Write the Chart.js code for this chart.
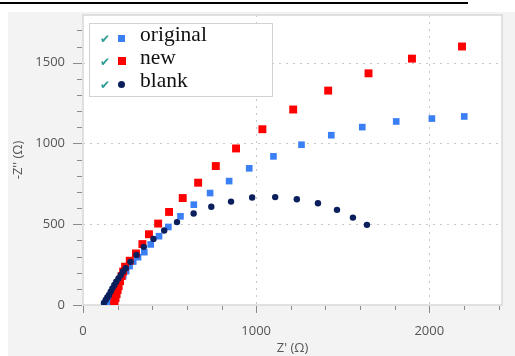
<!DOCTYPE html>
<html>
<head>
<meta charset="utf-8">
<script src="https://cdn.jsdelivr.net/npm/chart.js@4.4.0/dist/chart.umd.min.js"></script>
<style>
  body { margin: 0; background: #fff; }
  #wrap { position: relative; width: 515px; height: 356px; overflow: hidden; }
  #rule { position: absolute; left: 0; top: 2px; width: 468px; height: 2px; background: #000; }
  #panel { position: absolute; left: 8px; top: 12px; right: 0; bottom: 0; background: #f3f3f3; }
  #chart { position: absolute; left: 0; top: 0; }
  #legendBox { position: absolute; left: 89px; top: 23px; width: 182px; height: 72px;
               background: #fff; border: 1px solid #d2d2d2; }
  .check { position: absolute; font: 12px "DejaVu Sans"; color: #2b9c94; line-height: 12px; }
  .mark { position: absolute; }
  .label { position: absolute; font: 21.5px "Liberation Serif"; color: #111; line-height: 23px; white-space: nowrap; }
</style>
</head>
<body>
<div id="wrap">
  <div id="rule"></div>
  <div id="panel"></div>
  <canvas id="chart" width="515" height="356"></canvas>
  <div id="legendBox"></div>
</div>
<script>
// Series names and colours
const seriesNames = ['original', 'new', 'blank'];
const seriesColors = ['#3b7ff5', '#ff0000', '#0a1f5c'];

// original (blue squares)
const originalX = [145, 153, 162, 174, 185, 200, 214, 232, 249, 269, 290, 318, 354, 391, 439, 493, 563, 640, 734, 844, 960, 1100, 1262, 1434, 1613, 1809, 2015, 2202];
const originalY = [6, 19, 43, 68, 93, 120, 148, 179, 210, 241, 269, 296, 327, 375, 426, 483, 549, 621, 693, 767, 846, 920, 992, 1051, 1101, 1136, 1154, 1167];

// new (red squares)
const newX = [180, 182, 188, 194, 200, 206, 214, 223, 232, 243, 270, 306, 343, 381, 434, 497, 576, 665, 767, 884, 1036, 1214, 1416, 1649, 1900, 2189];
const newY = [5, 19, 43, 68, 93, 117, 148, 179, 207, 237, 274, 319, 377, 438, 504, 576, 662, 757, 860, 969, 1088, 1210, 1327, 1434, 1525, 1600];

// blank (navy circles)
const blankX = [121, 131, 140, 150, 160, 170, 181, 192, 205, 218, 232, 247, 274, 309, 351, 407, 469, 543, 639, 741, 855, 977, 1110, 1235, 1357, 1467, 1559, 1640];
const blankY = [12, 31, 47, 62, 83, 103, 124, 144, 165, 185, 207, 228, 267, 310, 360, 409, 461, 513, 566, 608, 640, 665, 668, 655, 630, 589, 541, 496];

// Axis ticks
const xTicks = [0, 200, 400, 600, 800, 1000, 1200, 1400, 1600, 1800, 2000, 2200, 2400];
const yTicks = [0, 100, 200, 300, 400, 500, 600, 700, 800, 900, 1000, 1100, 1200, 1300, 1400, 1500, 1600, 1700];
const xLabelTicks = [0, 1000, 2000];
const yLabelTicks = [0, 500, 1000, 1500];

const toPoints = (xs, ys) => xs.map((x, i) => ({ x: x, y: ys[i] }));

// white plot area, dotted grid, frame and tick marks
const plotFrame = {
  id: 'plotFrame',
  beforeDatasetsDraw(chart) {
    const { ctx, chartArea: a, scales: { x, y } } = chart;
    ctx.save();
    ctx.fillStyle = '#fff';
    ctx.fillRect(a.left, a.top, a.right - a.left, a.bottom - a.top);

    ctx.strokeStyle = '#c8c8c8';
    ctx.lineWidth = 1;
    ctx.setLineDash([2, 5]);
    xLabelTicks.filter(v => v > 0).forEach(v => {
      const px = Math.round(x.getPixelForValue(v)) + 0.5;
      ctx.beginPath(); ctx.moveTo(px, a.top); ctx.lineTo(px, a.bottom); ctx.stroke();
    });
    yLabelTicks.filter(v => v > 0).forEach(v => {
      const py = Math.round(y.getPixelForValue(v)) + 0.5;
      ctx.beginPath(); ctx.moveTo(a.left, py); ctx.lineTo(a.right, py); ctx.stroke();
    });
    ctx.setLineDash([]);

    ctx.strokeStyle = '#d8d8d8';
    ctx.lineWidth = 1.5;
    ctx.strokeRect(a.left, a.top, a.right - a.left, a.bottom - a.top);

    ctx.strokeStyle = '#8a8a8a';
    ctx.lineWidth = 1;
    xTicks.forEach(v => {
      const px = Math.round(x.getPixelForValue(v)) + 0.5;
      const len = xLabelTicks.includes(v) ? 7 : 4;
      ctx.beginPath(); ctx.moveTo(px, a.bottom + 1); ctx.lineTo(px, a.bottom + 1 + len); ctx.stroke();
    });
    yTicks.forEach(v => {
      const py = Math.round(y.getPixelForValue(v)) + 0.5;
      const len = yLabelTicks.includes(v) ? 9 : 5;
      ctx.beginPath(); ctx.moveTo(a.left - 1 - len, py); ctx.lineTo(a.left - 1, py); ctx.stroke();
    });
    ctx.restore();
  }
};

const tickFont = { family: 'Open Sans', size: 13 };

const chart = new Chart(document.getElementById('chart'), {
  type: 'scatter',
  data: {
    datasets: [
      { label: seriesNames[0], data: toPoints(originalX, originalY), pointStyle: 'rect', pointRadius: 4.7,
        backgroundColor: seriesColors[0], borderColor: seriesColors[0], pointBorderWidth: 0, order: 2 },
      { label: seriesNames[1], data: toPoints(newX, newY), pointStyle: 'rect', pointRadius: 5.6,
        backgroundColor: seriesColors[1], borderColor: seriesColors[1], pointBorderWidth: 0, order: 1 },
      { label: seriesNames[2], data: toPoints(blankX, blankY), pointStyle: 'circle', pointRadius: 3.2,
        backgroundColor: seriesColors[2], borderColor: seriesColors[2], pointBorderWidth: 0, order: 0 }
    ]
  },
  options: {
    responsive: false,
    animation: false,
    events: [],
    layout: { padding: { top: 15, right: 13, bottom: 0, left: 0 } },
    plugins: { legend: { display: false }, tooltip: { enabled: false } },
    scales: {
      x: {
        type: 'linear',
        min: 0,
        max: 2420,
        afterBuildTicks: scale => { scale.ticks = xTicks.map(v => ({ value: v })); },
        afterFit: scale => {
          scale.height = 51;
          scale.paddingLeft = 0; scale.paddingRight = 0;
        },
        grid: { display: false, drawTicks: false },
        border: { display: false },
        ticks: {
          autoSkip: false, maxRotation: 0, padding: 18, color: '#555', font: tickFont,
          callback: v => xLabelTicks.includes(v) ? String(v) : ''
        },
        title: { display: true, text: "Z' (Ω)", color: '#555', font: tickFont, padding: { top: 0, bottom: 0 } }
      },
      y: {
        type: 'linear',
        min: 0,
        max: 1795,
        afterBuildTicks: scale => { scale.ticks = yTicks.map(v => ({ value: v })); },
        afterFit: scale => {
          scale.width = 83;
          scale.paddingTop = 0; scale.paddingBottom = 0;
        },
        grid: { display: false, drawTicks: false },
        border: { display: false },
        ticks: {
          autoSkip: false, padding: 18, color: '#555', font: tickFont,
          callback: v => yLabelTicks.includes(v) ? String(v) : ''
        },
        title: { display: true, text: "-Z'' (Ω)", color: '#555', font: tickFont, padding: { top: 10, bottom: 0 } }
      }
    }
  },
  plugins: [plotFrame]
});

// HTML legend inside the plot
const wrap = document.getElementById('wrap');
const markerSize = [7, 8, 7];
seriesNames.forEach((name, i) => {
  const rowTop = 23 + i * 23;
  const check = document.createElement('div');
  check.className = 'check';
  check.textContent = '✔';
  check.style.left = '100px';
  check.style.top = (rowTop + 10) + 'px';
  wrap.appendChild(check);

  const mark = document.createElement('div');
  mark.className = 'mark';
  const s = markerSize[i];
  mark.style.width = s + 'px';
  mark.style.height = s + 'px';
  mark.style.left = (121.5 - s / 2) + 'px';
  mark.style.top = (rowTop + 15 - s / 2) + 'px';
  mark.style.background = seriesColors[i];
  if (i === 2) mark.style.borderRadius = '50%';
  wrap.appendChild(mark);

  const label = document.createElement('div');
  label.className = 'label';
  label.textContent = name;
  label.style.left = '140px';
  label.style.top = rowTop + 'px';
  wrap.appendChild(label);
});
</script>
</body>
</html>
